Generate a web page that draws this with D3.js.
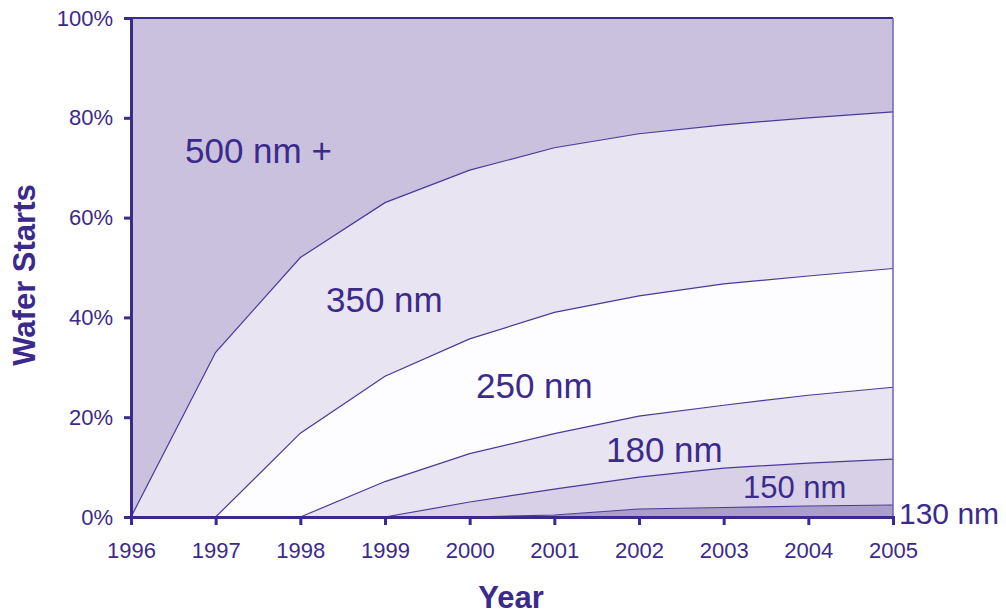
<!DOCTYPE html>
<html>
<head>
<meta charset="utf-8">
<script src="https://cdn.jsdelivr.net/npm/d3@7"></script>
<style>
  body { margin: 0; background: #fff; }
  svg { display: block; font-family: "Liberation Sans", Arial, sans-serif; }
</style>
</head>
<body>
<svg width="1006" height="614"></svg>
<script>
"use strict"

// share of wafer starts per node (%)
const years = [1996, 1997, 1998, 1999, 2000, 2001, 2002, 2003, 2004, 2005]
const nm130 = [0, 0, 0, 0, 0, 0.4, 1.6, 1.9, 2.2, 2.4]
const nm150 = [0, 0, 0, 0, 3, 5.2, 6.4, 7.9, 8.6, 9.2]
const nm180 = [0, 0, 0, 7.1, 9.7, 11.1, 12.2, 12.6, 13.6, 14.4]
const nm250 = [0, 0, 16.8, 21.1, 23, 24.3, 24.1, 24.3, 23.9, 23.8]
const nm350 = [0, 33, 35.2, 34.8, 33.8, 33, 32.5, 31.9, 31.7, 31.4]
const nm500 = [100, 67, 48, 37, 30.5, 26, 23.2, 21.4, 20, 18.8]
const keys = ["130 nm", "150 nm", "180 nm", "250 nm", "350 nm", "500 nm +"]
const yTicks = [0, 20, 40, 60, 80, 100]

const ink = "#3b2a8c"
const fills = {
    "130 nm": "#a99fca",
    "150 nm": "#d7d0e6",
    "180 nm": "#e9e4f1",
    "250 nm": "#fdfcfe",
    "350 nm": "#e9e4f1",
    "500 nm +": "#c9c1de"
}

const margin = {left: 131, top: 18}
const width = 762, height = 499

const table = years.map((y, i) => ({
    year: y,
    "130 nm": nm130[i], "150 nm": nm150[i], "180 nm": nm180[i],
    "250 nm": nm250[i], "350 nm": nm350[i], "500 nm +": nm500[i]
}))

const x = d3.scaleLinear().domain([1996, 2005]).range([0, width])
const y = d3.scaleLinear().domain([0, 100]).range([height, 0])

const series = d3.stack().keys(keys)(table)

const svg = d3.select("svg")
const g = svg.append("g").attr("transform", "translate(" + margin.left + "," + margin.top + ")")

const area = d3.area()
    .x(d => x(d.data.year))
    .y0(d => y(d[0]))
    .y1(d => y(d[1]))

g.selectAll("path.layer")
    .data(series)
    .enter()
    .append("path")
    .attr("class", "layer")
    .attr("d", area)
    .attr("fill", d => fills[d.key])

// boundary lines between layers
const edge = d3.line()
    .x(d => x(d.data.year))
    .y(d => y(d[1]))

g.selectAll("path.edge")
    .data(series.slice(0, series.length - 1))
    .enter()
    .append("path")
    .attr("class", "edge")
    .attr("d", edge)
    .attr("fill", "none")
    .attr("stroke", "#4a3a98")
    .attr("stroke-width", 1.2)

// frame top and right
g.append("line").attr("x1", 0).attr("x2", width).attr("y1", 0).attr("y2", 0)
    .attr("stroke", ink).attr("stroke-width", 2)
g.append("line").attr("x1", width).attr("x2", width).attr("y1", 0).attr("y2", height)
    .attr("stroke", "#6f63ab").attr("stroke-width", 1.5)

// y axis
const yAxis = d3.axisLeft(y).tickValues(yTicks).tickFormat(d => d + "%").tickSize(7).tickPadding(11)
const ya = g.append("g").call(yAxis)
ya.attr("font-size", 22).attr("font-family", "Liberation Sans, Arial, sans-serif")
ya.select(".domain").attr("stroke", ink).attr("stroke-width", 3)
ya.selectAll(".tick line").attr("stroke", ink).attr("stroke-width", 3)
ya.selectAll(".tick text").attr("fill", ink)

// x axis
const xAxis = d3.axisBottom(x).tickValues(years).tickFormat(d3.format("d")).tickSize(8).tickPadding(17)
const xa = g.append("g").attr("transform", "translate(0," + height + ")").call(xAxis)
xa.attr("font-size", 22).attr("font-family", "Liberation Sans, Arial, sans-serif")
xa.select(".domain").attr("stroke", ink).attr("stroke-width", 3)
xa.selectAll(".tick line").attr("stroke", ink).attr("stroke-width", 3)
xa.selectAll(".tick text").attr("fill", ink)

// axis titles
svg.append("text")
    .attr("transform", "translate(35,275) rotate(-90)")
    .attr("text-anchor", "middle")
    .attr("fill", ink)
    .style("font-size", "31px").style("font-weight", "bold")
    .text("Wafer Starts")

svg.append("text")
    .attr("x", 511).attr("y", 608)
    .attr("text-anchor", "middle")
    .attr("fill", ink)
    .style("font-size", "31px").style("font-weight", "bold")
    .text("Year")

// layer labels
const labels = [
    {t: "500 nm +", x: 185, y: 163, s: 35},
    {t: "350 nm", x: 326, y: 312, s: 35},
    {t: "250 nm", x: 476, y: 398, s: 35},
    {t: "180 nm", x: 606, y: 462, s: 35},
    {t: "150 nm", x: 743, y: 498, s: 31},
    {t: "130 nm", x: 899, y: 524, s: 30}
]
svg.selectAll("text.lbl")
    .data(labels)
    .enter()
    .append("text")
    .attr("class", "lbl")
    .attr("x", d => d.x).attr("y", d => d.y)
    .attr("fill", ink)
    .style("font-size", d => d.s + "px")
    .text(d => d.t)
</script>
</body>
</html>
